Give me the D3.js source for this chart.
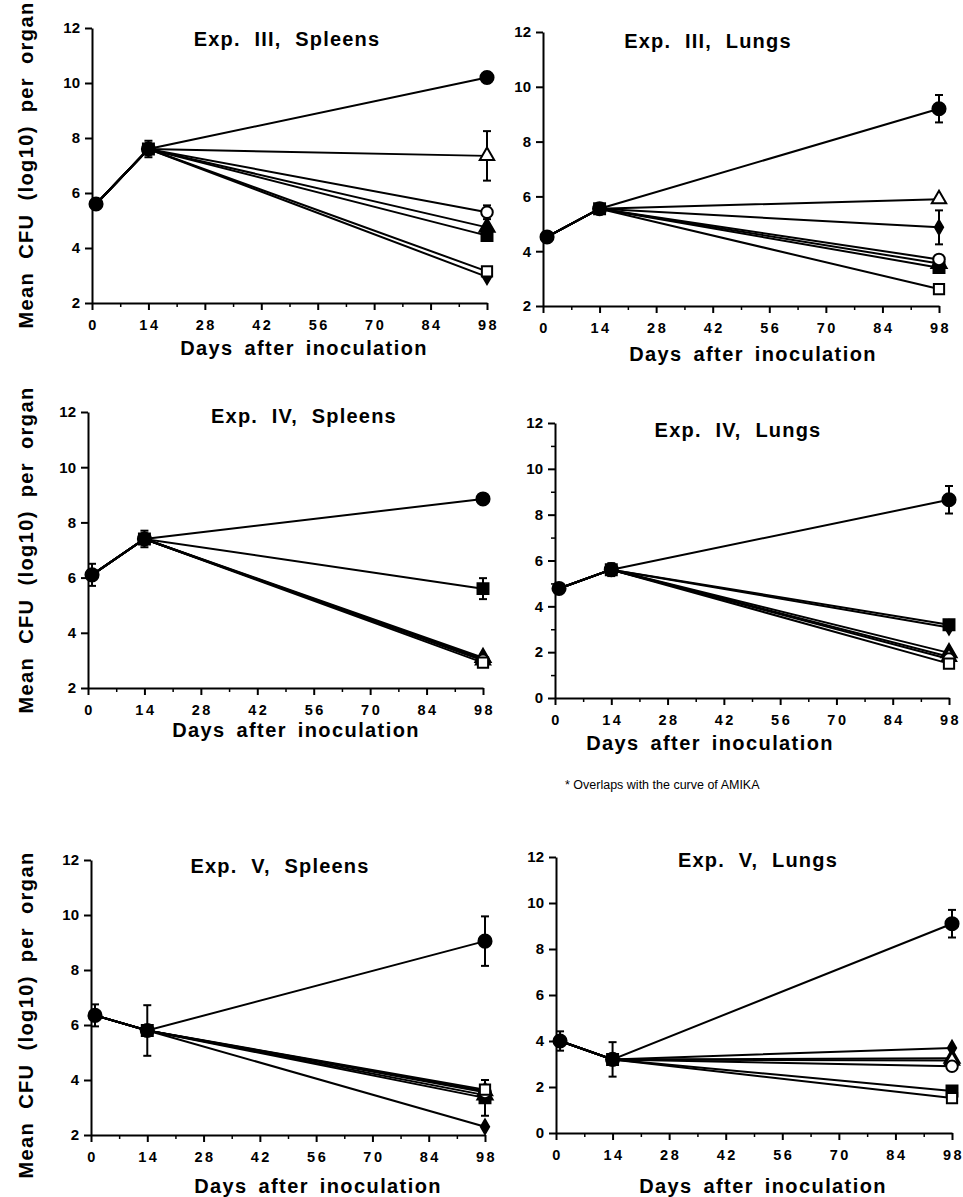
<!DOCTYPE html>
<html>
<head>
<meta charset="utf-8">
<script src="https://cdn.jsdelivr.net/npm/d3@7"></script>
<style>
  body { margin: 0; background: #fff; }
  svg text { font-family: "Liberation Sans", Arial, sans-serif; fill: #000; }
</style>
</head>
<body>
<div id="chart"></div>
<script>
// values
const panelTitles = ["Exp. III, Spleens", "Exp. III, Lungs", "Exp. IV, Spleens",
                     "Exp. IV, Lungs", "Exp. V, Spleens", "Exp. V, Lungs"];
const xTicks = [0, 14, 28, 42, 56, 70, 84, 98];
const xMinorTicks = [7, 21, 35, 49, 63, 77, 91];
const sampleDays = [1, 14, 98];
const yMins = [2, 2, 2, 0, 2, 0];
const yMax = 12;

// day 1 and day 14 (shared by all groups)
const day1Values = [5.6, 4.52, 6.1, 4.78, 6.35, 4.0];
const day1Errors = [0.1, 0.1, 0.4, 0.12, 0.4, 0.42];
const day14Values = [7.6, 5.55, 7.4, 5.6, 5.8, 3.2];
const day14Errors = [0.3, 0.1, 0.3, 0.28, 0.92, 0.75];

// day 98, one value per group
const markerShapes = ["filledCircle", "openTriangle", "openCircle", "filledTriangle",
                      "filledSquare", "openSquare", "filledDiamond"];
const day98Values = [
  [10.2, 7.35, 5.3, 4.75, 4.45, 3.15, 2.95],
  [9.2, 5.9, 3.7, 3.55, 3.4, 2.62, 4.87],
  [8.85, 3.0, 3.0, 3.1, 5.6, 2.92, 3.05],
  [8.65, 1.8, 1.7, 1.97, 3.2, 1.5, 3.08],
  [9.05, 3.6, 3.55, 3.45, 3.35, 3.65, 2.3],
  [9.1, 3.15, 2.9, 3.25, 1.83, 1.52, 3.7]
];
const day98Errors = [
  [0.2, 0.9, 0.25, 0, 0, 0, 0],
  [0.5, 0, 0, 0, 0, 0, 0.62],
  [0.15, 0, 0, 0, 0.38, 0, 0],
  [0.6, 0, 0, 0, 0, 0, 0],
  [0.9, 0, 0, 0, 0.65, 0, 0],
  [0.6, 0, 0, 0, 0, 0, 0]
];
const yLabel = "Mean CFU (log10) per organ";
const xLabel = "Days after inoculation";
const footnote = "* Overlaps with the curve of AMIKA";

// layout of each panel on the page
const boxes = [
  { x0: 92,  x1: 487, yT: 28,  yB: 303,  tx: 287, ty: 46,  lx: 304, ly: 355 },
  { x0: 543, x1: 939, yT: 32,  yB: 306,  tx: 708, ty: 48,  lx: 753, ly: 361 },
  { x0: 88,  x1: 483, yT: 412, yB: 688,  tx: 304, ty: 423, lx: 296, ly: 737 },
  { x0: 555, x1: 949, yT: 423, yB: 698,  tx: 738, ty: 437, lx: 710, ly: 750 },
  { x0: 91,  x1: 485, yT: 860, yB: 1135, tx: 280, ty: 873, lx: 318, ly: 1193 },
  { x0: 556, x1: 952, yT: 857, yB: 1133, tx: 758, ty: 867, lx: 763, ly: 1193 }
];
const rowCenters = [165, 550, 1015];

const width = 963, height = 1197;
const svg = d3.select("#chart").append("svg")
    .attr("width", width)
    .attr("height", height);

const shapeOf = {
  filledCircle:   { type: d3.symbolCircle,   size: 135, fill: "#000" },
  openCircle:     { type: d3.symbolCircle,   size: 105, fill: "#fff" },
  filledTriangle: { type: d3.symbolTriangle, size: 100, fill: "#000" },
  openTriangle:   { type: d3.symbolTriangle, size: 90,  fill: "#fff" },
  filledSquare:   { type: d3.symbolSquare,   size: 120, fill: "#000" },
  openSquare:     { type: d3.symbolSquare,   size: 105, fill: "#fff" },
  filledDiamond:  { type: d3.symbolDiamond,  size: 60,  fill: "#000" }
};

function marker(g, name, x, y) {
  const s = shapeOf[name];
  g.append("path")
    .attr("transform", `translate(${x},${y})`)
    .attr("d", d3.symbol().type(s.type).size(s.size)())
    .attr("fill", s.fill)
    .attr("stroke", "#000")
    .attr("stroke-width", 2);
}

function errorBar(g, x, yScale, v, e) {
  if (!e) return;
  g.append("line")
    .attr("x1", x).attr("x2", x)
    .attr("y1", yScale(v - e)).attr("y2", yScale(v + e))
    .attr("stroke", "#000").attr("stroke-width", 2);
  [v - e, v + e].forEach(c => {
    g.append("line")
      .attr("x1", x - 4).attr("x2", x + 4)
      .attr("y1", yScale(c)).attr("y2", yScale(c))
      .attr("stroke", "#000").attr("stroke-width", 2);
  });
}

panelTitles.forEach((title, p) => {
  const b = boxes[p];
  const g = svg.append("g");

  const x = d3.scaleLinear().domain([0, 98]).range([b.x0, b.x1]);
  const y = d3.scaleLinear().domain([yMins[p], yMax]).range([b.yB, b.yT]);
  const yTicks = d3.range(yMins[p], yMax + 1, 2);

  // x axis
  const xAxis = g.append("g")
      .attr("transform", `translate(0,${b.yB})`)
      .call(d3.axisBottom(x).tickValues(xTicks).tickSize(7).tickSizeOuter(0));
  xAxis.select(".domain").attr("stroke-width", 2);
  xAxis.selectAll(".tick line").attr("stroke-width", 2);
  xAxis.selectAll(".tick text")
      .attr("y", 0).attr("dy", null)
      .attr("transform", "translate(1,27)")
      .style("font-size", "14.5px")
      .style("font-weight", "bold")
      .style("letter-spacing", "2.5px")
      .style("font-family", "'Liberation Sans', Arial, sans-serif");
  g.append("g")
      .attr("transform", `translate(0,${b.yB})`)
      .call(d3.axisBottom(x).tickValues(xMinorTicks).tickSize(4).tickFormat(""))
      .call(a => a.select(".domain").remove())
      .selectAll(".tick line").attr("stroke-width", 1.5);

  // y axis
  const yAxis = g.append("g")
      .attr("transform", `translate(${b.x0},0)`)
      .call(d3.axisLeft(y).tickValues(yTicks).tickSize(7).tickSizeOuter(0).tickPadding(5));
  yAxis.select(".domain").attr("stroke-width", 2);
  yAxis.selectAll(".tick line").attr("stroke-width", 2);
  yAxis.selectAll(".tick text")
      .style("font-size", "15px")
      .style("font-weight", "bold")
      .style("font-family", "'Liberation Sans', Arial, sans-serif");
  if (p === 3) {
    g.append("g")
      .attr("transform", `translate(${b.x0},0)`)
      .call(d3.axisLeft(y).tickValues(d3.range(1, 12, 2)).tickSize(4).tickFormat(""))
      .call(a => a.select(".domain").remove())
      .selectAll(".tick line").attr("stroke-width", 1.5);
  }

  // title and x label
  g.append("text")
      .attr("x", b.tx).attr("y", b.ty)
      .attr("text-anchor", "middle")
      .style("font-size", "20px")
      .style("font-weight", "bold")
      .style("letter-spacing", "1.2px")
      .style("word-spacing", "7px")
      .text(title);
  g.append("text")
      .attr("x", b.lx).attr("y", b.ly)
      .attr("text-anchor", "middle")
      .style("font-size", "20px")
      .style("font-weight", "bold")
      .style("letter-spacing", "1.4px")
      .style("word-spacing", "4px")
      .text(xLabel);

  // lines, one per group
  const line = d3.line().x(d => x(d[0])).y(d => y(d[1]));
  markerShapes.forEach((m, i) => {
    const pts = [[sampleDays[0], day1Values[p]], [sampleDays[1], day14Values[p]],
                 [sampleDays[2], day98Values[p][i]]];
    g.append("path")
      .datum(pts)
      .attr("d", line)
      .attr("fill", "none")
      .attr("stroke", "#000")
      .attr("stroke-width", 2);
  });

  // error bars and markers
  errorBar(g, x(sampleDays[0]), y, day1Values[p], day1Errors[p]);
  errorBar(g, x(sampleDays[1]), y, day14Values[p], day14Errors[p]);
  marker(g, "filledCircle", x(sampleDays[0]), y(day1Values[p]));
  marker(g, "filledCircle", x(sampleDays[1]), y(day14Values[p]));
  marker(g, "filledSquare", x(sampleDays[1]), y(day14Values[p]));

  markerShapes.forEach((m, i) => {
    errorBar(g, x(sampleDays[2]), y, day98Values[p][i], day98Errors[p][i]);
  });
  // filled first, open on top
  const order = markerShapes.map((m, i) => i)
      .sort((a, c) => (shapeOf[markerShapes[a]].fill === "#fff") - (shapeOf[markerShapes[c]].fill === "#fff"));
  order.forEach(i => marker(g, markerShapes[i], x(sampleDays[2]), y(day98Values[p][i])));
});

// y labels, left column only
rowCenters.forEach(c => {
  svg.append("text")
      .attr("transform", `translate(33,${c}) rotate(-90)`)
      .attr("text-anchor", "middle")
      .style("font-size", "20px")
      .style("font-weight", "bold")
      .style("letter-spacing", "1.4px")
      .style("word-spacing", "6px")
      .text(yLabel);
});

svg.append("text")
    .attr("x", 565).attr("y", 789)
    .style("font-size", "12.5px")
    .text(footnote);
</script>
</body>
</html>
